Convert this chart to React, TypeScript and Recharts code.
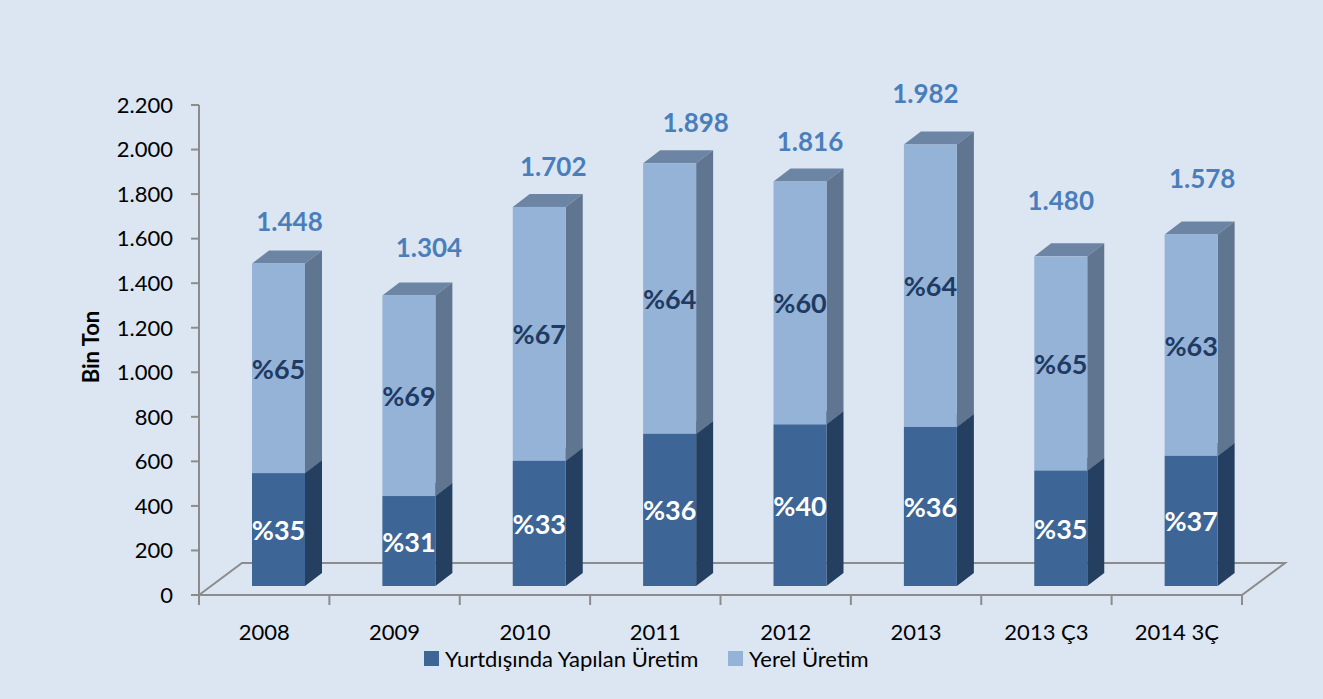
import { Bar, BarChart, LabelList, XAxis, YAxis } from "recharts";

document.body.style.margin = "0";

const categories = ["2008", "2009", "2010", "2011", "2012", "2013", "2013 Ç3", "2014 3Ç"];
const yurtdisi = [507, 404, 562, 683, 726, 714, 518, 584];
const yerel = [941, 900, 1140, 1215, 1090, 1268, 962, 994];
const yTicks = [0, 200, 400, 600, 800, 1000, 1200, 1400, 1600, 1800, 2000, 2200];

const data = categories.map((cat, i) => ({ cat, yurt: yurtdisi[i], yerel: yerel[i] }));

// 3D look: front face shifted into the floor, depth offsets for side/top faces
const SHIFT_X = 14;
const SHIFT_Y = 9;
const DX = 17;
const DY = 13;
const PLOT_LEFT = 199;
const PLOT_RIGHT = 1242;
const AXIS_Y = 595;
const BAND = (PLOT_RIGHT - PLOT_LEFT) / categories.length;
const FONT = "Lato, 'Open Sans', sans-serif";
// total labels were nudged by hand in the original, keep the same nudges
const TOTAL_DX = [11, 20, 14, 26, 10, -5, 0, 11];
const TOTAL_LIFT = [42, 49, 41, 41, 41, 52, 56, 57];

const fmt = (n: number) => String(n).replace(/\B(?=(\d{3})+(?!\d))/g, ".");
const total = (i: number) => yurtdisi[i] + yerel[i];

function box(front: string, side: string, top: string) {
  return (props: any) => {
    const { x, y, width: w, height: h } = props;
    const fx = x + SHIFT_X;
    const fy = y - SHIFT_Y;
    return (
      <g>
        <polygon
          points={`${fx},${fy} ${fx + DX},${fy - DY} ${fx + w + DX},${fy - DY} ${fx + w},${fy}`}
          fill={top}
        />
        <polygon
          points={`${fx + w},${fy} ${fx + w + DX},${fy - DY} ${fx + w + DX},${fy + h - DY} ${fx + w},${fy + h}`}
          fill={side}
        />
        <rect x={fx} y={fy} width={w} height={h} fill={front} />
      </g>
    );
  };
}

function pctLabel(color: string, series: number[]) {
  return (props: any) => {
    const { x, y, width, height, index } = props;
    const pct = Math.round((series[index] / total(index)) * 100);
    return (
      <text
        x={Number(x) + Number(width) / 2 + SHIFT_X}
        y={Number(y) + Number(height) / 2 - SHIFT_Y}
        textAnchor="middle"
        dominantBaseline="central"
        fill={color}
        fontFamily={FONT}
        fontWeight={700}
        fontSize={27}
      >
        %{pct}
      </text>
    );
  };
}

const totalLabel = (props: any) => {
  const { x, y, width, index } = props;
  return (
    <text
      x={Number(x) + Number(width) / 2 + SHIFT_X + TOTAL_DX[index]}
      y={Number(y) - SHIFT_Y - TOTAL_LIFT[index]}
      textAnchor="middle"
      dominantBaseline="central"
      fill="#4a7ebb"
      fontFamily={FONT}
      fontWeight={700}
      fontSize={26}
    >
      {fmt(total(index))}
    </text>
  );
};

const XTick = (props: any) => {
  const { x, y, payload, index } = props;
  const left = x - BAND / 2;
  return (
    <g>
      <line x1={left} y1={y} x2={left} y2={y + 10} stroke="#8c8c8c" strokeWidth={2} />
      {index === categories.length - 1 && (
        <line x1={x + BAND / 2} y1={y} x2={x + BAND / 2} y2={y + 10} stroke="#8c8c8c" strokeWidth={2} />
      )}
      <text
        x={x}
        y={y + 36}
        textAnchor="middle"
        dominantBaseline="central"
        fill="#000"
        fontFamily={FONT}
        fontSize={22}
      >
        {payload.value}
      </text>
    </g>
  );
};

export default function App() {
  return (
    <div style={{ position: "relative", width: 1323, height: 699, background: "#dce6f2" }}>
      <BarChart
        width={1323}
        height={699}
        data={data}
        margin={{ top: 105, right: 1323 - PLOT_RIGHT, bottom: 64, left: 99 }}
      >
        <polygon
          points={`${PLOT_LEFT},${AXIS_Y} ${PLOT_LEFT + 43},${AXIS_Y - 32} ${PLOT_RIGHT + 43},${AXIS_Y - 32} ${PLOT_RIGHT},${AXIS_Y}`}
          fill="none"
          stroke="#8c8c8c"
          strokeWidth={2}
        />
        <text
          x={90}
          y={347}
          transform="rotate(-90 90 347)"
          textAnchor="middle"
          dominantBaseline="central"
          fontFamily={FONT}
          fontWeight={700}
          fontSize={22}
          fill="#000"
        >
          Bin Ton
        </text>
        <XAxis
          dataKey="cat"
          height={40}
          tickSize={0}
          tickMargin={0}
          tickLine={false}
          axisLine={{ stroke: "#8c8c8c", strokeWidth: 2 }}
          tick={<XTick />}
          interval={0}
        />
        <YAxis
          width={100}
          domain={[0, 2200]}
          ticks={yTicks}
          tickFormatter={fmt}
          tickSize={8}
          tickMargin={18}
          axisLine={{ stroke: "#8c8c8c", strokeWidth: 2 }}
          tickLine={{ stroke: "#8c8c8c", strokeWidth: 2 }}
          tick={{ fill: "#000", fontFamily: FONT, fontSize: 22 }}
          interval={0}
        />
        <Bar
          dataKey="yurt"
          stackId="a"
          barSize={53}
          isAnimationActive={false}
          shape={box("#3d6596", "#253f61", "#2f5079")}
        >
          <LabelList dataKey="yurt" content={pctLabel("#ffffff", yurtdisi)} />
        </Bar>
        <Bar
          dataKey="yerel"
          stackId="a"
          barSize={53}
          isAnimationActive={false}
          shape={box("#95b3d7", "#60758f", "#6c85a4")}
        >
          <LabelList dataKey="yerel" content={pctLabel("#1f3a63", yerel)} />
          <LabelList dataKey="yerel" content={totalLabel} />
        </Bar>
      </BarChart>
      <div
        style={{
          position: "absolute",
          top: 645,
          left: 424,
          display: "flex",
          alignItems: "center",
          fontFamily: FONT,
          fontSize: 22,
          color: "#000",
          whiteSpace: "nowrap",
        }}
      >
        <span style={{ width: 15, height: 15, background: "#3d6596", marginRight: 6 }} />
        <span style={{ width: 252, marginRight: 31 }}>Yurtdışında Yapılan Üretim</span>
        <span style={{ width: 15, height: 15, background: "#95b3d7", marginRight: 6 }} />
        <span>Yerel Üretim</span>
      </div>
    </div>
  );
}
